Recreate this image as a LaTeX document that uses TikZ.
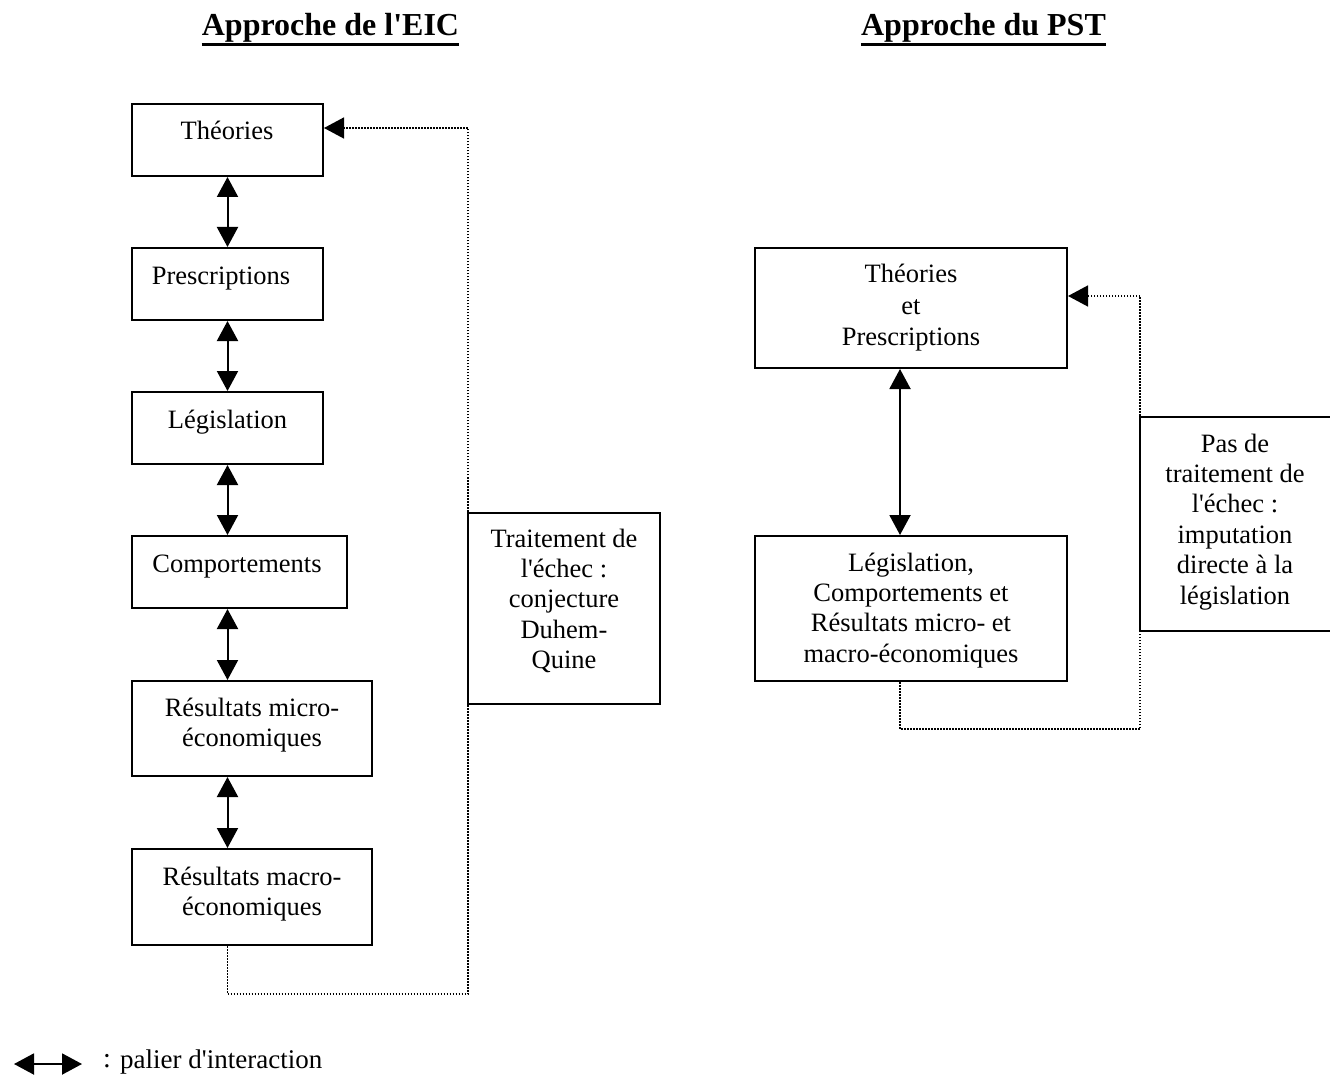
\documentclass[tikz,border=0pt]{standalone}
\usepackage{fontspec}
\setmainfont{Liberation Serif}[Ligatures=TeXOff]
\usetikzlibrary{arrows.meta}
\newcommand\mlines[1]{\begin{tabular}[t]{@{}c@{}}#1\end{tabular}}
\begin{document}
\begin{tikzpicture}[x=1pt,y=-1pt,
  box/.style={draw, line width=2pt, inner sep=0pt},
  txt/.style={anchor=base, inner sep=0pt, font=\fontsize{26.5}{30.4}\selectfont},
  txtb/.style={anchor=base, inner sep=0pt, font=\fontsize{26.5}{31.5}\selectfont},
  ttl/.style={anchor=base, inner sep=0pt, font=\fontsize{32}{38}\selectfont\bfseries},
  dbl/.style={line width=2pt, {Triangle[length=20pt,width=21pt]}-{Triangle[length=20pt,width=21pt]}},
  fb/.style={line width=1.5pt, dash pattern=on 1.5pt off 1.5pt, -{Triangle[length=20pt,width=21pt]}},
]
\useasboundingbox (0,0) rectangle (1330,1075);

% titles
\node[ttl] (t1) at (330.5,36) {Approche de l'EIC};
\node[ttl] (t2) at (983.5,36) {Approche du PST};
\draw[line width=3pt] ([yshift=-1.5pt]t1.south west) -- ([yshift=-1.5pt]t1.south east);
\draw[line width=3pt] ([yshift=-1.5pt]t2.south west) -- ([yshift=-1.5pt]t2.south east);

% left column boxes
\node[box, minimum width=191pt, minimum height=72pt] (theo) at (227.5,140) {};
\node[box, minimum width=191pt, minimum height=72pt] (presc) at (227.5,284) {};
\node[box, minimum width=191pt, minimum height=72pt] (legis) at (227.5,428) {};
\node[box, minimum width=215pt, minimum height=72pt] (comp) at (239.5,572) {};
\node[box, minimum width=240pt, minimum height=95pt] (micro) at (252,728.5) {};
\node[box, minimum width=240pt, minimum height=96pt] (macro) at (252,897) {};
\node[box, minimum width=192pt, minimum height=191pt] (trait) at (564,608.5) {};

\node[txt] (theoT) at (227,140) {Théories};
\node[txt] (prescT) at (221,284) {Prescriptions};
\node[txt] (legisT) at (227.5,428) {Législation};
\node[txt] (compT) at (237,572) {Comportements};
\node[txt] (microT) at (252,716) {\mlines{Résultats micro-\\économiques}};
\node[txt] (macroT) at (252,885) {\mlines{Résultats macro-\\économiques}};
\node[txt] (traitT) at (564,547) {\mlines{Traitement de\\l'échec :\\conjecture\\Duhem-\\Quine}};

% left interaction arrows
\draw[dbl] (theo.south) -- (presc.north);
\draw[dbl] (presc.south) -- (legis.north);
\draw[dbl] (legis.south) -- (legis.south |- comp.north);
\draw[dbl] (comp.south -| legis.south) -- (micro.north -| legis.south);
\draw[dbl] (micro.south -| legis.south) -- (macro.north -| legis.south);

% left feedback
\coordinate (fbL) at (468,128);
\draw[fb] (macro.south -| theo.south) -- ++(0,48) -| (fbL) -- (theo.east |- fbL);

% right column
\node[box, minimum width=312pt, minimum height=120pt] (rtop) at (911,308) {};
\node[box, minimum width=312pt, minimum height=145pt] (rbot) at (911,608.5) {};
\node[box, minimum width=192pt, minimum height=214pt] (pas) at (1236,524) {};

\node[txtb] (rtopT) at (911,283) {\mlines{Théories\\et\\Prescriptions}};
\node[txt] (rbotT) at (911,571) {\mlines{Législation,\\Comportements et\\Résultats micro- et\\macro-économiques}};
\node[txt] (pasT) at (1235,452) {\mlines{Pas de\\traitement de\\l'échec :\\imputation\\directe à la\\législation}};

\coordinate (xr) at (900,0);
\draw[dbl] (rtop.south -| xr) -- (rbot.north -| xr);

\coordinate (fbR) at (1140,296);
\draw[fb] (rbot.south -| xr) -- ++(0,47) -| (fbR) -- (rtop.east |- fbR);

% legend
\coordinate (lgA) at (14,1064);
\coordinate (lgB) at (82,1064);
\draw[dbl] (lgA) -- (lgB);
\node[txt, anchor=base west, font=\fontsize{28}{32}\selectfont] (lgC) at (103,1067) {:};
\node[txt, anchor=base west, font=\fontsize{27}{32}\selectfont] (lgT) at (120,1068) {palier d'interaction};
\end{tikzpicture}
\end{document}
